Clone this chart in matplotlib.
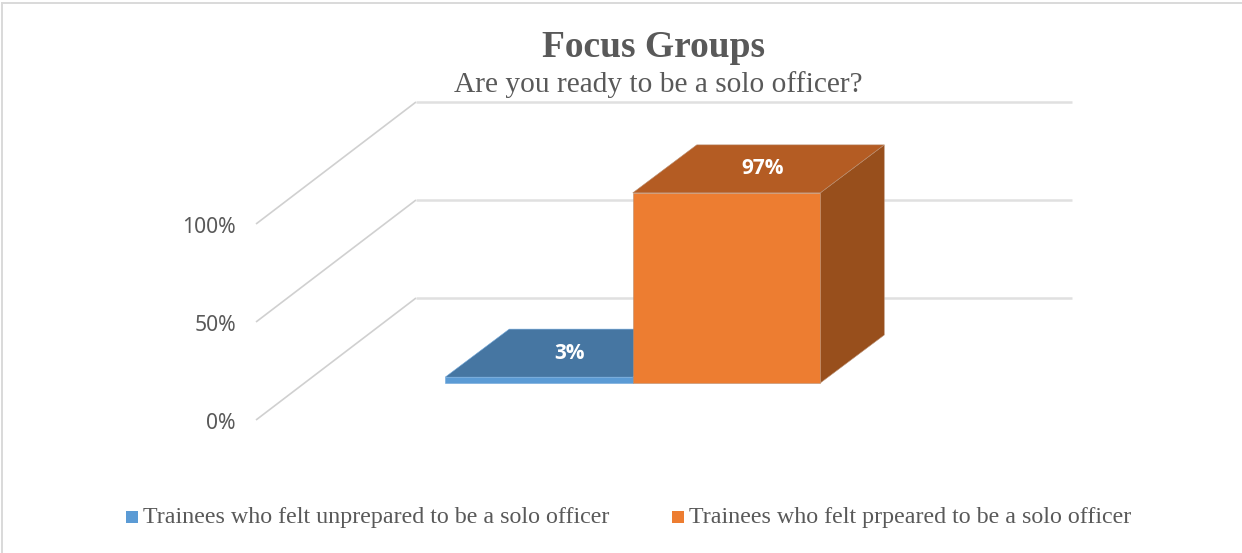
#!/usr/bin/env python3
"""Focus group answers, drawn as an Office style 3-D column chart."""

import matplotlib

matplotlib.use("Agg")
import matplotlib.pyplot as plt
from matplotlib.patches import Polygon, Rectangle

TITLE = "Focus Groups"
SUBTITLE = "Are you ready to be a solo officer?"
categories = [
    "Trainees who felt unprepared to be a solo officer",
    "Trainees who felt prpeared to be a solo officer",
]
values = [3, 97]
value_labels = ["3%", "97%"]
ticks = [0, 50, 100]
tick_labels = ["0%", "50%", "100%"]

W, H = 1242, 553
PX_X = 187.5  # pixels per category
PX_Y = 1.96  # pixels per percent
ORIGIN_X, ORIGIN_Y = 539, 383  # pixel of category 0 on the bar baseline

# Oblique projection, in data units
BAR_DX, BAR_DY = 64 / PX_X, 48 / PX_Y
WALL_DX, WALL_DY = 160 / PX_X, 122 / PX_Y
FLOOR_FRONT_X = (256 - ORIGIN_X) / PX_X
FLOOR_FRONT_Y = (ORIGIN_Y - 420) / PX_Y
WALL_RIGHT_X = (1072 - ORIGIN_X) / PX_X

SERIF = "Liberation Serif"
SANS = "Noto Sans"
GREY = "#595959"

fronts = ["#5b9bd5", "#ed7d31"]
tops = ["#4676a2", "#b45c23"]
sides = ["#3f6b94", "#984f1c"]
edges = ["#6ea6da", "#b98f72"]
label_nudge_px = [-1, 4]  # Office centres these a little off the top face


def px_to_x(px):
    return (px - ORIGIN_X) / PX_X


def px_to_y(px):
    return (ORIGIN_Y - px) / PX_Y


def draw_bar(ax, i, val):
    l, r = i - 0.5, i + 0.5
    front = [(l, 0), (r, 0), (r, val), (l, val)]
    top = [(l, val), (r, val), (r + BAR_DX, val + BAR_DY), (l + BAR_DX, val + BAR_DY)]
    side = [(r, 0), (r + BAR_DX, BAR_DY), (r + BAR_DX, val + BAR_DY), (r, val)]
    ax.add_patch(Polygon(side, fc=sides[i], ec=edges[i], lw=0.4, zorder=3 + i))
    ax.add_patch(Polygon(top, fc=tops[i], ec=edges[i], lw=0.4, zorder=3 + i))
    ax.add_patch(Polygon(front, fc=fronts[i], ec=edges[i], lw=0.4, zorder=3 + i))


def main():
    fig = plt.figure(figsize=(W / 100, H / 100), dpi=100, facecolor="white")
    ax = fig.add_axes([0, 0, 1, 1])
    ax.set_xlim(px_to_x(0), px_to_x(W))
    ax.set_ylim(px_to_y(H), px_to_y(0))
    ax.axis("off")

    # chart frame, only the top and left edges survive the crop
    ax.plot([px_to_x(1.5), px_to_x(W)], [px_to_y(3.5), px_to_y(3.5)], color="#d9d9d9", lw=1.4)
    ax.plot([px_to_x(1.5), px_to_x(1.5)], [px_to_y(3.5), px_to_y(H)], color="#d9d9d9", lw=1.4)

    # floor edge + back wall gridlines
    for t, label in zip(ticks, tick_labels):
        y = FLOOR_FRONT_Y + t
        ax.plot([FLOOR_FRONT_X, FLOOR_FRONT_X + WALL_DX], [y, y + WALL_DY],
                color="#d0d0d0", lw=1.2, zorder=1, solid_capstyle="butt")
        ax.plot([FLOOR_FRONT_X + WALL_DX, WALL_RIGHT_X], [y + WALL_DY, y + WALL_DY],
                color="#e0e0e0", lw=1.8, zorder=1, solid_capstyle="butt")
        ax.text(px_to_x(236), y + 1.5 / PX_Y - 2.5, label, ha="right", va="center",
                family=SANS, fontsize=15.2, color=GREY)

    for i, (val, label) in enumerate(zip(values, value_labels)):
        draw_bar(ax, i, val)
        ax.text(i + BAR_DX / 2 + label_nudge_px[i] / PX_X, val + BAR_DY / 2, label,
                ha="center", va="center", family="Open Sans", fontsize=15, fontweight="bold",
                color="white", zorder=6)

    ax.text(px_to_x(654), px_to_y(47.5), TITLE, ha="center", va="center", family=SERIF,
            fontsize=27, fontweight="bold", color=GREY)
    ax.text(px_to_x(658.5), px_to_y(85), SUBTITLE, ha="center", va="center", family=SERIF,
            fontsize=21.2, color=GREY)

    # legend, laid out by hand like the Office one
    swatch_w, swatch_h = 12 / PX_X, 12 / PX_Y
    for name, color, px in zip(categories, fronts, [126, 672]):
        ax.add_patch(Rectangle((px_to_x(px), px_to_y(523)), swatch_w, swatch_h, fc=color, ec="none"))
        ax.text(px_to_x(px + 17), px_to_y(518), name, ha="left", va="center", family=SERIF,
                fontsize=17.3, color=GREY)

    fig.savefig("out.png", dpi=100, facecolor="white")


if __name__ == "__main__":
    main()
